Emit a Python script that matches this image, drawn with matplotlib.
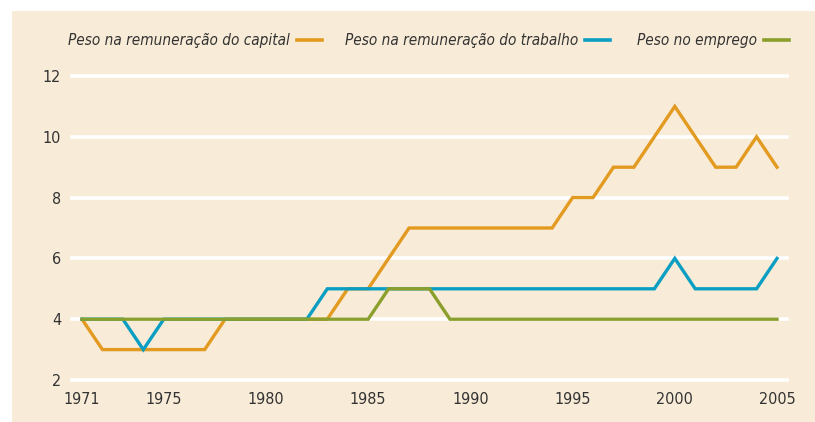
import matplotlib
matplotlib.use("Agg")
import matplotlib.pyplot as plt
from matplotlib.patches import Rectangle
from matplotlib.lines import Line2D

plt.rcParams['font.family'] = ['Liberation Sans Narrow', 'DejaVu Sans']
plt.rcParams['font.stretch'] = 'condensed'

years = list(range(1971, 2006))
capital = [4, 3, 3, 3, 3, 3, 3, 4, 4, 4, 4, 4, 4, 5, 5, 6, 7, 7, 7, 7,
           7, 7, 7, 7, 8, 8, 9, 9, 10, 11, 10, 9, 9, 10, 9]
trabalho = [4, 4, 4, 3, 4, 4, 4, 4, 4, 4, 4, 4, 5, 5, 5, 5, 5, 5, 5, 5,
            5, 5, 5, 5, 5, 5, 5, 5, 5, 6, 5, 5, 5, 5, 6]
emprego = [4, 4, 4, 4, 4, 4, 4, 4, 4, 4, 4, 4, 4, 4, 4, 5, 5, 5, 4, 4,
           4, 4, 4, 4, 4, 4, 4, 4, 4, 4, 4, 4, 4, 4, 4]
labels = ["Peso na remuneração do capital", "Peso na remuneração do trabalho",
          "Peso no emprego"]
colors = ["#E39A20", "#0A9FC2", "#8A9F2C"]
xticks = [1971, 1975, 1980, 1985, 1990, 1995, 2000, 2005]
yticks = [2, 4, 6, 8, 10, 12]

W, H = 815, 422
bg = "#F8EBD7"
txt = "#333333"

fig = plt.figure(figsize=(W / 100, H / 100), dpi=100)
fig.patch.set_facecolor("white")
fig.patches.append(Rectangle((12 / W, 0), 1, (H - 11) / H, transform=fig.transFigure,
                             facecolor=bg, edgecolor="none", zorder=-5))

ax = fig.add_axes([72 / W, (H - 380) / H, (787 - 72) / W, (380 - 76) / H])
ax.set_zorder(2)
ax.set_facecolor("none")
ax.set_xlim(1971 - 10 / 20.44, 2005 + 10 / 20.44)
ax.set_ylim(2, 12)
for s in ax.spines.values():
    s.set_visible(False)
for y in yticks:
    ax.axhline(y, color="white", lw=2.6, zorder=1, clip_on=False)

for series, c in zip([capital, trabalho, emprego], colors):
    ax.plot(years, series, color=c, lw=2.4, solid_joinstyle="miter", zorder=3, clip_on=False)

ax.set_xticks(xticks)
ax.set_yticks(yticks)
ax.tick_params(length=0, labelsize=11.5, colors=txt)
ax.tick_params(axis="x", pad=9)
ax.tick_params(axis="y", pad=8)

# legend: italic label followed by a short line
text_ends = [290, 578, 757]
for lab, c, xe in zip(labels, colors, text_ends):
    fig.text(xe / W, (H - 41) / H, lab, ha="right", va="center", style="italic",
             fontsize=11, color=txt, zorder=3)
    fig.lines.append(Line2D([(xe + 7) / W, (xe + 32) / W], [(H - 40) / H] * 2,
                            transform=fig.transFigure, color=c, lw=2.6, zorder=3))

fig.savefig("out.png", dpi=100, facecolor=fig.get_facecolor())
